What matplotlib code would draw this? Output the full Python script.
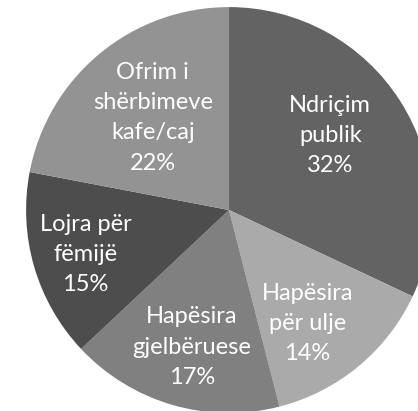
import numpy as np
import matplotlib.pyplot as plt

labels = ["Ndriçim\npublik", "Hapësira\npër ulje", "Hapësira\ngjelbëruese",
          "Lojra për\nfëmijë", "Ofrim i\nshërbimeve\nkafe/caj"]
shares = [32, 14, 17, 15, 22]
colors = ["#636363", "#aaaaaa", "#808080", "#4d4d4d", "#939393"]
label_dist = [0.62, 0.68, 0.70, 0.74, 0.59]
label_shift = [4, -5, 1, 1, 0]  # degrees, nudges label angle

fig = plt.figure(figsize=(4.18, 4.11), dpi=100)
ax = fig.add_axes([0.548 - 0.4856, 0.489 - 0.494, 0.971, 0.988])

wedges, _ = ax.pie(shares, colors=colors, startangle=90, counterclock=False,
                   radius=1.0, wedgeprops=dict(linewidth=0))
ax.set_xlim(-1, 1)
ax.set_ylim(-1, 1)
ax.set_aspect("equal")

for w, lab, val, d, s in zip(wedges, labels, shares, label_dist, label_shift):
    ang = np.deg2rad((w.theta1 + w.theta2) / 2 + s)
    ax.text(d * np.cos(ang), d * np.sin(ang), f"{lab}\n{val}%",
            ha="center", va="center", color="white", fontsize=17,
            family="Lato", linespacing=1.55)

fig.savefig("out.png", dpi=100)
